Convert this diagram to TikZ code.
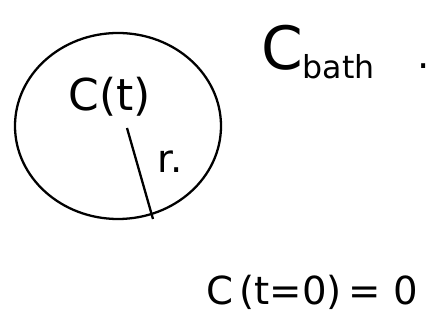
\documentclass[tikz,border=0pt]{standalone}
\usepackage{amsmath}
\usepackage{amssymb}
\usepackage{fontspec}
\setmainfont{DejaVu Sans}

\begin{document}
\begin{tikzpicture}[x=0.02cm,y=-0.02cm,line width=1.3pt]
\useasboundingbox (0,0) rectangle (437,327);
\draw (118,126) ellipse [x radius=103,y radius=93];
\coordinate (ctr) at (127,128);
\coordinate (rim) at (153,219);
\draw (ctr)--(rim);
\node[inner sep=1pt] (conc) at (110,97) {\fontsize{25}{30}\selectfont C(t)};
\node[inner sep=1pt] (rad) at (170,162) {\fontsize{22}{26}\selectfont r.};
\node[inner sep=1pt] (bath) at (318,52) {\fontsize{34}{40}\selectfont C\raisebox{-0.25ex}{\fontsize{18}{22}\selectfont bath}};
\node[inner sep=1pt] (dot) at (424,66) {\fontsize{22}{26}\selectfont .};
\node[inner sep=1pt] (init) at (312,292) {\fontsize{22}{26}\selectfont C\,(t=0)\,= 0};
\end{tikzpicture}
\end{document}
